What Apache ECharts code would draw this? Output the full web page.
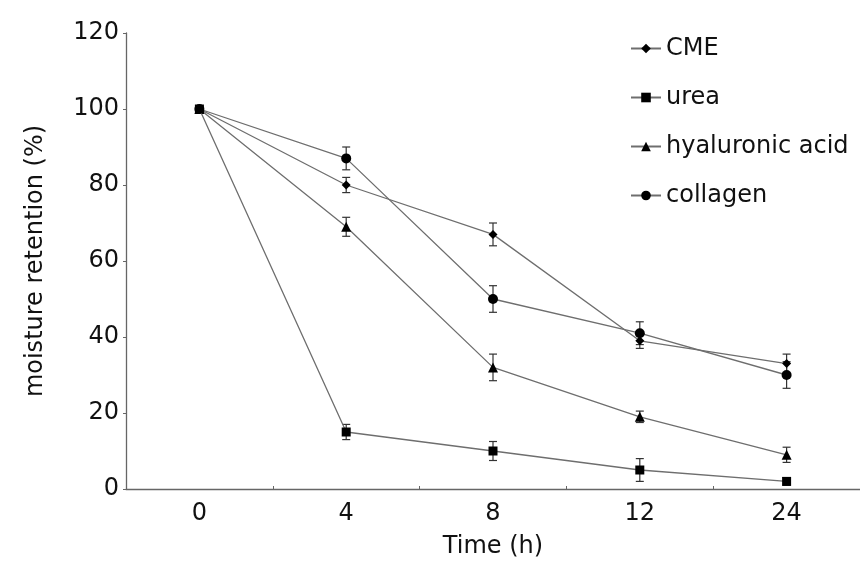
<!DOCTYPE html>
<html>
<head>
<meta charset="utf-8">
<script src="https://cdn.jsdelivr.net/npm/echarts@6/dist/echarts.min.js"></script>
<style>html,body{margin:0;padding:0;background:#fff;}#c{width:860px;height:569px;}</style>
</head>
<body>
<div id="c"></div>
<script>
const categories = ['0', '4', '8', '12', '24'];
const yTicks = [0, 20, 40, 60, 80, 100, 120];
const seriesNames = ['CME', 'urea', 'hyaluronic acid', 'collagen'];

const cmeMean = [100, 80, 67, 39, 33];
const cmeErr = [0, 2, 3, 2, 2.5];
const ureaMean = [100, 15, 10, 5, 2];
const ureaErr = [0, 2, 2.5, 3, 1];
const haMean = [100, 69, 32, 19, 9];
const haErr = [0, 2.5, 3.5, 1.5, 2];
const collagenMean = [100, 87, 50, 41, 30];
const collagenErr = [0, 3, 3.5, 3, 3.5];

const FONT = 'DejaVu Sans';
const LINE = '#6e6e6e';
const MARK = '#000';

function errData(mean, err) {
  const out = [];
  mean.forEach((m, i) => { if (err[i] > 0) out.push([i, m - err[i], m + err[i]]); });
  return out;
}
function renderErr(params, api) {
  const x = api.value(0);
  const lo = api.coord([x, api.value(1)]);
  const hi = api.coord([x, api.value(2)]);
  const w = 4;
  const st = { stroke: '#333', lineWidth: 1.2 };
  return { type: 'group', children: [
    { type: 'line', shape: { x1: lo[0], y1: lo[1], x2: hi[0], y2: hi[1] }, style: st },
    { type: 'line', shape: { x1: lo[0] - w, y1: lo[1], x2: lo[0] + w, y2: lo[1] }, style: st },
    { type: 'line', shape: { x1: hi[0] - w, y1: hi[1], x2: hi[0] + w, y2: hi[1] }, style: st }
  ]};
}
function lineSeries(name, data, symbol, size, z) {
  return {
    name: name, type: 'line', data: data, symbol: symbol, symbolSize: size,
    showAllSymbol: true, z: z,
    lineStyle: { color: LINE, width: 1.3 },
    itemStyle: { color: MARK, borderWidth: 0 },
    emphasis: { disabled: true }, animation: false
  };
}
function errSeries(mean, err) {
  return {
    type: 'custom', renderItem: renderErr, data: errData(mean, err),
    encode: { x: 0, y: [1, 2] }, z: 1, silent: true, animation: false
  };
}

const chart = echarts.init(document.getElementById('c'), null, { renderer: 'canvas' });
chart.setOption({
  animation: false,
  backgroundColor: '#fff',
  grid: { left: 126, top: 33, width: 740, height: 456, containLabel: false },
  legend: {
    data: seriesNames, orient: 'vertical', left: 625, top: 30,
    itemWidth: 30, itemHeight: 12, itemGap: 22,
    textStyle: { fontFamily: FONT, fontSize: 24, color: '#111', lineHeight: 27 },
    inactiveColor: '#ccc'
  },
  xAxis: {
    type: 'category', data: categories, boundaryGap: true,
    name: 'Time (h)', nameLocation: 'middle', nameGap: 46,
    nameTextStyle: { fontFamily: FONT, fontSize: 24, color: '#111' },
    axisLine: { lineStyle: { color: '#666', width: 1.3 } },
    axisTick: { show: true, inside: true, length: 3, lineStyle: { color: '#666' } },
    axisLabel: { fontFamily: FONT, fontSize: 24, color: '#111', margin: 13 },
    splitLine: { show: false }
  },
  yAxis: {
    type: 'value', min: yTicks[0], max: yTicks[yTicks.length - 1], interval: yTicks[1] - yTicks[0],
    name: 'moisture retention (%)', nameLocation: 'middle', nameGap: 78,
    nameTextStyle: { fontFamily: FONT, fontSize: 24, color: '#111' },
    axisLine: { show: true, lineStyle: { color: '#666', width: 1.3 } },
    axisTick: { show: true, inside: false, length: 3, lineStyle: { color: '#666' } },
    axisLabel: { fontFamily: FONT, fontSize: 24, color: '#111', margin: 7 },
    splitLine: { show: false }
  },
  series: [
    errSeries(cmeMean, cmeErr),
    errSeries(ureaMean, ureaErr),
    errSeries(haMean, haErr),
    errSeries(collagenMean, collagenErr),
    lineSeries(seriesNames[0], cmeMean, 'diamond', 9, 3),
    lineSeries(seriesNames[1], ureaMean, 'rect', 9, 5),
    lineSeries(seriesNames[2], haMean, 'triangle', 10, 3),
    lineSeries(seriesNames[3], collagenMean, 'circle', 10, 3)
  ]
});
</script>
</body>
</html>
